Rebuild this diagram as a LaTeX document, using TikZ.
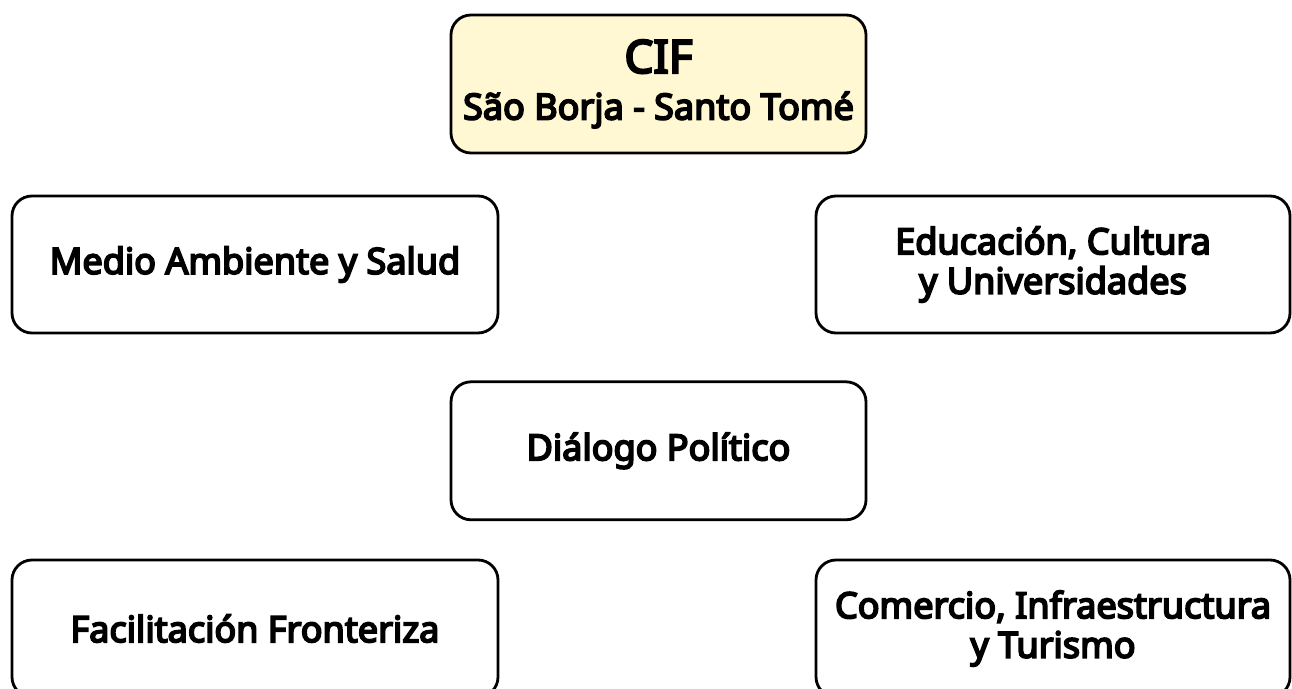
\documentclass[tikz,border=0pt]{standalone}
\usepackage{fontspec}
\setmainfont{Noto Sans}[AutoFakeBold=5]
\usetikzlibrary{positioning}
\definecolor{cifyellow}{HTML}{FFF8D2}

\begin{document}
\begin{tikzpicture}[line width=1.6pt,font=\bfseries\fontsize{20.5}{22.5}\selectfont]
        \tikzstyle{every node}=[align=center, text=black]
        \tikzstyle{comite}=[draw, rounded corners=0.4cm, minimum height=2.74cm]
        \tikzstyle{cifbox}=[comite, fill=cifyellow, minimum width=8.3cm, minimum height=2.76cm]

        \useasboundingbox (0,0) rectangle (25.84,-13.78);

        \node[cifbox]                      (cif)      at (13.17,-1.68)  {{\fontsize{26}{27}\selectfont CIF}\\[4pt]São Borja - Santo Tomé};
        \node[comite, minimum width=9.72cm] (ambiente) at (5.10,-5.29)   {Medio Ambiente y Salud};
        \node[comite, minimum width=9.48cm] (educacion) at (21.06,-5.29) {Educación, Cultura\\y Universidades};
        \node[cifbox, fill=white]          (dialogo)  [below=4.52cm of cif] {Diálogo Político};
        \node[comite, minimum width=9.72cm] (frontera) at (5.10,-12.57)  {Facilitación Fronteriza};
        \node[comite, minimum width=9.48cm] (comercio) at (21.06,-12.57) {Comercio, Infraestructura\\y Turismo};
\end{tikzpicture}
\end{document}
